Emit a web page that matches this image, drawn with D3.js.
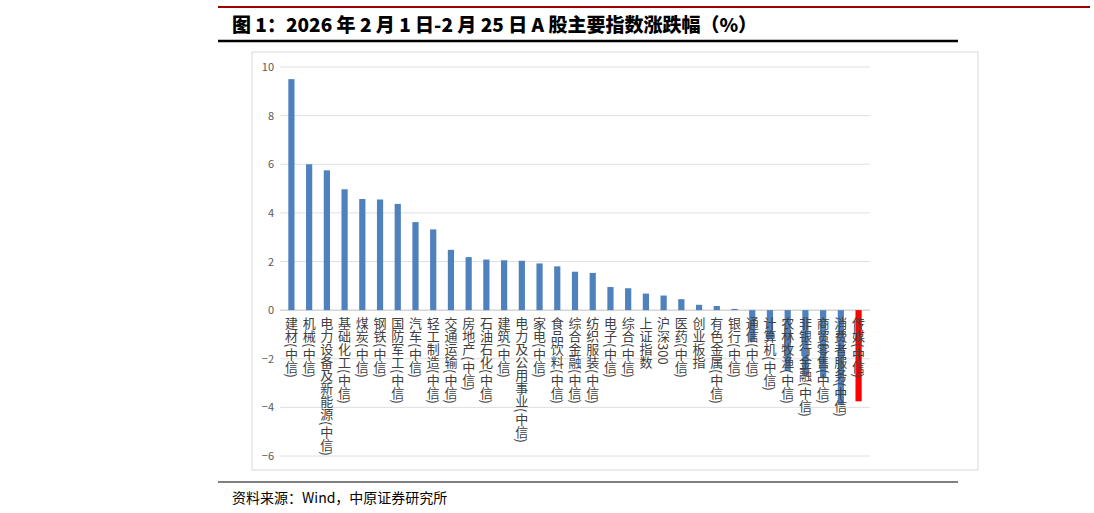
<!DOCTYPE html><html><head><meta charset="utf-8"><script src="https://cdn.jsdelivr.net/npm/d3@7"></script>
<style>body{margin:0;background:#fff}text{font-family:"Noto Sans CJK SC",sans-serif}</style></head><body><svg id="c" width="1094" height="513"></svg><script>
const categories=["建材(中信)","机械(中信)","电力设备及新能源(中信)","基础化工(中信)","煤炭(中信)","钢铁(中信)","国防军工(中信)","汽车(中信)","轻工制造(中信)","交通运输(中信)","房地产(中信)","石油石化(中信)","建筑(中信)","电力及公用事业(中信)","家电(中信)","食品饮料(中信)","综合金融(中信)","纺织服装(中信)","电子(中信)","综合(中信)","上证指数","沪深300","医药(中信)","创业板指","有色金属(中信)","银行(中信)","通信(中信)","计算机(中信)","农林牧渔(中信)","非银行金融(中信)","商贸零售(中信)","消费者服务(中信)","传媒(中信)"];
const values=[9.5,6.0,5.75,4.97,4.57,4.55,4.37,3.62,3.32,2.48,2.18,2.08,2.05,2.03,1.92,1.8,1.58,1.53,0.95,0.9,0.68,0.6,0.45,0.22,0.17,0.05,-1.3,-1.2,-2.5,-2.7,-2.8,-3.9,-3.75];
const yTicks=[10,8,6,4,2,0,-2,-4,-6];
const svg=d3.select("#c");
svg.append("line").attr("x1",218).attr("x2",1090).attr("y1",7).attr("y2",7).attr("stroke","#a00000").attr("stroke-width",2);
svg.append("text").attr("x",232).attr("y",32).attr("font-size",19).attr("font-weight",900).attr("fill","#000").attr("font-family","'Liberation Sans','Noto Sans CJK SC',sans-serif").text("图 1：2026 年 2 月 1 日-2 月 25 日 A 股主要指数涨跌幅（%）");
svg.append("line").attr("x1",218).attr("x2",958).attr("y1",41).attr("y2",41).attr("stroke","#000").attr("stroke-width",2.5);
svg.append("rect").attr("x",252).attr("y",52).attr("width",726).attr("height",418).attr("fill","none").attr("stroke","#d9d9d9");
svg.append("line").attr("x1",218).attr("x2",958).attr("y1",482).attr("y2",482).attr("stroke","#000").attr("stroke-width",1);
svg.append("text").attr("x",232).attr("y",503).attr("font-size",14).attr("fill","#000").text("资料来源：Wind，中原证券研究所");
const y=d3.scaleLinear().domain([-6,10]).range([456,67]);
const x=d3.scaleBand().domain(categories).range([283,867]).paddingInner(0.65).paddingOuter(0.3);
const g=svg.append("g");
yTicks.forEach(t=>{g.append("line").attr("x1",280).attr("x2",870).attr("y1",y(t)).attr("y2",y(t)).attr("stroke",t===0?"#bfbfbf":"#e0e0e0");});
const ax=svg.append("g").attr("transform","translate(276,0)").call(d3.axisLeft(y).tickValues(yTicks).tickSize(0).tickPadding(2));
ax.select(".domain").remove();
ax.selectAll("text").attr("font-size",11).attr("fill","#595959").attr("font-family","Liberation Sans,Arial");
g.selectAll("rect.b").data(values).join("rect").attr("x",(d,i)=>x(categories[i])).attr("width",x.bandwidth())
 .attr("y",d=>y(Math.max(0,d))).attr("height",d=>Math.abs(y(d)-y(0))).attr("fill",(d,i)=>i===categories.length-1?"#ff0000":"#4f81bd");
g.selectAll("text.l").data(categories).join("text").attr("x",d=>x(d)+x.bandwidth()/2).attr("y",317)
 .style("writing-mode","vertical-rl").style("text-orientation","mixed").attr("font-size",13).attr("fill","#404040")
 .attr("font-family","'Noto Serif CJK SC','Noto Sans CJK SC',serif").text(d=>d);
</script></body></html>
